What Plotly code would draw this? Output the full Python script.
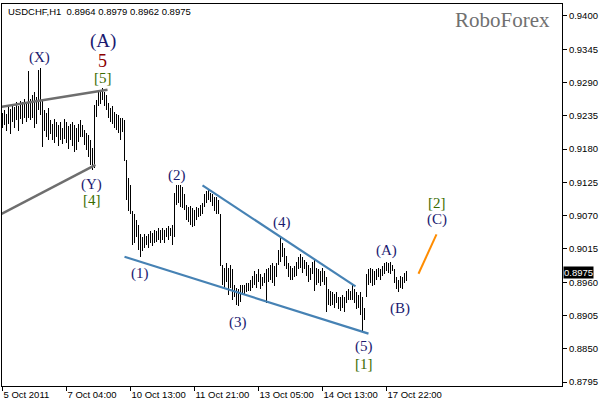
import plotly.graph_objects as go

highs = [0.9240,0.9245,0.9238,0.9250,0.9247,0.9255,0.9250,0.9258,0.9252,0.9260,
         0.9257,0.9262,0.9255,0.9309,0.9262,0.9270,0.9275,0.9266,0.9311,0.9314,
         0.9261,0.9245,0.9240,0.9248,0.9228,0.9222,0.9230,0.9225,0.9220,0.9225,
         0.9215,0.9230,0.9225,0.9218,0.9222,0.9225,0.9220,0.9215,0.9222,0.9228,
         0.9220,0.9212,0.9207,0.9204,0.9195,0.9182,0.9253,0.9261,0.9275,0.9278,
         0.9281,0.9275,0.9270,0.9256,0.9248,0.9251,0.9242,0.9238,0.9237,0.9232,
         0.9232,0.9228,0.9162,0.9133,0.9121,0.9077,0.9072,0.9063,0.9055,0.9039,
         0.9034,0.9039,0.9037,0.9040,0.9044,0.9042,0.9047,0.9044,0.9050,0.9047,
         0.9049,0.9047,0.9050,0.9053,0.9050,0.9055,0.9108,0.9121,0.9121,0.9120,
         0.9118,0.9105,0.9088,0.9085,0.9086,0.9083,0.9080,0.9085,0.9083,0.9088,
         0.9091,0.9105,0.9110,0.9113,0.9108,0.9105,0.9101,0.9100,0.9096,0.9072,
         0.8989,0.8984,0.8992,0.8984,0.8989,0.8981,0.8956,0.8951,0.8948,0.8955,
         0.8956,0.8955,0.8958,0.8959,0.8964,0.8971,0.8978,0.8974,0.8981,0.8973,
         0.8968,0.8976,0.8981,0.8984,0.8989,0.8991,0.8987,0.8992,0.9014,0.9035,
         0.9024,0.9017,0.9004,0.8991,0.8987,0.8984,0.8987,0.8994,0.9002,0.9006,
         0.9001,0.8997,0.8994,0.8989,0.8984,0.8994,0.8997,0.8984,0.8981,0.8978,
         0.8984,0.8978,0.8968,0.8948,0.8945,0.8943,0.8940,0.8943,0.8936,0.8935,
         0.8938,0.8936,0.8945,0.8948,0.8945,0.8956,0.8948,0.8943,0.8938,0.8943,
         0.8936,0.8918,0.8973,0.8981,0.8984,0.8981,0.8978,0.8981,0.8984,0.8981,
         0.8987,0.8991,0.8994,0.8992,0.8994,0.8989,0.8981,0.8968,0.8964,0.8971,
         0.8968,0.8976,0.8979]

lows = [0.9215,0.9220,0.9210,0.9222,0.9205,0.9225,0.9215,0.9228,0.9210,0.9230,
        0.9222,0.9232,0.9225,0.9232,0.9228,0.9232,0.9215,0.9222,0.9245,0.9237,
        0.9184,0.9210,0.9200,0.9195,0.9205,0.9195,0.9190,0.9200,0.9185,0.9195,
        0.9188,0.9197,0.9190,0.9180,0.9195,0.9185,0.9175,0.9178,0.9192,0.9200,
        0.9200,0.9187,0.9179,0.9167,0.9154,0.9146,0.9149,0.9233,0.9251,0.9255,
        0.9261,0.9251,0.9245,0.9232,0.9225,0.9221,0.9215,0.9212,0.9207,0.9195,
        0.9209,0.9160,0.9096,0.9077,0.9072,0.9022,0.9025,0.9034,0.9014,0.9001,
        0.9011,0.9017,0.9022,0.9017,0.9024,0.9020,0.9024,0.9027,0.9030,0.9024,
        0.9030,0.9025,0.9034,0.9030,0.9037,0.9022,0.9034,0.9088,0.9091,0.9085,
        0.9083,0.9080,0.9063,0.9060,0.9055,0.9052,0.9053,0.9063,0.9067,0.9070,
        0.9072,0.9085,0.9091,0.9096,0.9093,0.9086,0.9077,0.9072,0.9072,0.8986,
        0.8956,0.8948,0.8961,0.8938,0.8951,0.8931,0.8935,0.8923,0.8920,0.8928,
        0.8938,0.8941,0.8943,0.8945,0.8946,0.8950,0.8956,0.8951,0.8961,0.8948,
        0.8953,0.8959,0.8926,0.8961,0.8964,0.8958,0.8953,0.8968,0.8989,0.8994,
        0.9001,0.8987,0.8981,0.8968,0.8964,0.8964,0.8968,0.8971,0.8981,0.8984,
        0.8976,0.8981,0.8971,0.8961,0.8964,0.8973,0.8945,0.8956,0.8959,0.8953,
        0.8961,0.8956,0.8910,0.8923,0.8921,0.8923,0.8918,0.8925,0.8915,0.8912,
        0.8918,0.8910,0.8926,0.8931,0.8930,0.8931,0.8926,0.8915,0.8918,0.8905,
        0.8877,0.8898,0.8936,0.8956,0.8958,0.8953,0.8956,0.8964,0.8968,0.8964,
        0.8971,0.8974,0.8978,0.8976,0.8973,0.8978,0.8959,0.8948,0.8943,0.8951,
        0.8948,0.8959,0.8962]

last_close = 0.8975
x_tick_idx = [0, 32, 64, 96, 128, 160, 192]
x_tick_labels = ["5 Oct 2011", "7 Oct 04:00", "10 Oct 13:00", "11 Oct 21:00",
                 "13 Oct 05:00", "14 Oct 13:00", "17 Oct 22:00"]
y_ticks = [0.8795, 0.8850, 0.8905, 0.8960, 0.9015, 0.9070, 0.9125,
           0.9180, 0.9235, 0.9290, 0.9345, 0.9400]

# trend lines (bar index, price)
gray_upper_x = [-0.5, 52.5]; gray_upper_y = [0.9250, 0.9278]
gray_lower_x = [-0.5, 46.5]; gray_lower_y = [0.9073, 0.9154]
blue_upper_x = [100, 176.5]; blue_upper_y = [0.9120, 0.8953]
blue_lower_x = [61, 183];    blue_lower_y = [0.9002, 0.8875]
orange_x = [208, 217];       orange_y = [0.8974, 0.9039]

idx = list(range(len(highs)))
ranges = [h - l for h, l in zip(highs, lows)]

fig = go.Figure()
fig.add_trace(go.Bar(x=idx, y=ranges, base=lows, width=0.5,
                     marker=dict(color="black", line=dict(width=0)),
                     hoverinfo="skip"))
for xs, ys, col, w in [(gray_upper_x, gray_upper_y, "#6E6E6E", 2.5),
                       (gray_lower_x, gray_lower_y, "#6E6E6E", 2.5),
                       (blue_upper_x, blue_upper_y, "#4682B4", 2.2),
                       (blue_lower_x, blue_lower_y, "#4682B4", 2.2),
                       (orange_x, orange_y, "#FF8C00", 2)]:
    fig.add_trace(go.Scatter(x=xs, y=ys, mode="lines",
                             line=dict(color=col, width=w), hoverinfo="skip"))

NAVY = "#1A1A70"
GREEN = "#3A6B00"
RED = "#8B0000"
labels = [
    ("(X)", 18.5, 0.9331, NAVY, 15),
    ("(A)", 50, 0.9358, NAVY, 19),
    ("5", 50, 0.9326, RED, 18),
    ("[5]", 50, 0.9298, GREEN, 15),
    ("(Y)", 44.5, 0.9121, NAVY, 15),
    ("[4]", 44.5, 0.9096, GREEN, 15),
    ("(2)", 87, 0.9137, NAVY, 15),
    ("(1)", 68.5, 0.8974, NAVY, 15),
    ("(3)", 117.5, 0.8893, NAVY, 15),
    ("(4)", 139.5, 0.9059, NAVY, 15),
    ("(5)", 180.5, 0.8853, NAVY, 15),
    ("[1]", 180.5, 0.8825, GREEN, 15),
    ("(A)", 192, 0.9013, NAVY, 15),
    ("(B)", 198.5, 0.8916, NAVY, 15),
    ("(C)", 217, 0.9063, NAVY, 15),
    ("[2]", 217, 0.9091, GREEN, 15),
]
anns = []
for t, x, y, c, s in labels:
    anns.append(dict(text=t, x=x, y=y, xref="x", yref="y", showarrow=False,
                     font=dict(family="Liberation Serif", size=s, color=c)))
anns.append(dict(text="RoboForex", x=0.982, y=0.995, xref="paper", yref="paper",
                 xanchor="right", yanchor="top", showarrow=False,
                 font=dict(family="Liberation Serif", size=21, color="#707070")))
anns.append(dict(text="USDCHF,H1  0.8964 0.8979 0.8962 0.8975", x=0.008, y=1.0,
                 xref="paper", yref="paper", xanchor="left", yanchor="top",
                 showarrow=False, font=dict(family="Liberation Sans", size=9.5, color="black")))
anns.append(dict(text="0.8975", x=1.0, y=last_close, xref="paper", yref="y",
                 xanchor="left", yanchor="middle", showarrow=False, xshift=1, yshift=1,
                 bgcolor="black", borderpad=0,
                 font=dict(family="Liberation Sans", size=9.5, color="white")))

fig.update_layout(
    width=602, height=404,
    margin=dict(l=2, r=40, t=4, b=18),
    paper_bgcolor="white", plot_bgcolor="white",
    showlegend=False, bargap=0,
    annotations=anns,
    xaxis=dict(range=[-0.25, 279.75], showgrid=False, zeroline=False,
               tickmode="array", tickvals=x_tick_idx, ticktext=x_tick_labels,
               ticks="outside", ticklen=4, tickcolor="black",
               ticklabelposition="outside right",
               tickfont=dict(family="Liberation Sans", size=9.5, color="black"),
               showline=True, linecolor="black", linewidth=1, mirror=True),
    yaxis=dict(range=[0.87884, 0.94198], side="right", showgrid=False, zeroline=False,
               tickmode="array", tickvals=y_ticks,
               ticktext=[f"{v:.4f}" for v in y_ticks],
               ticks="outside", ticklen=4, tickcolor="black",
               tickfont=dict(family="Liberation Sans", size=9.5, color="black"),
               showline=True, linecolor="black", linewidth=1, mirror=True),
)
fig.write_html("out.html", config={"displayModeBar": False},
               post_script="document.body.style.margin='0';document.body.style.overflow='hidden';")
